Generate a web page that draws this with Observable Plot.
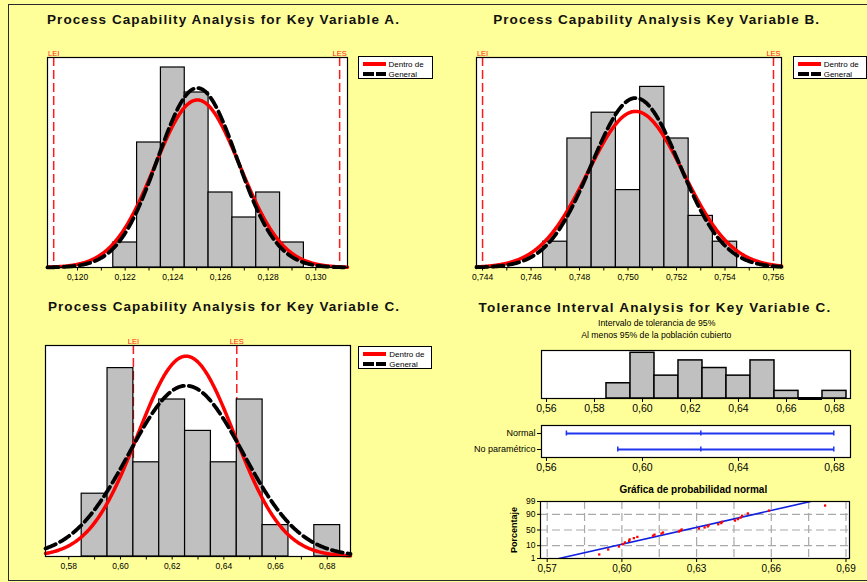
<!DOCTYPE html>
<html>
<head>
<meta charset="utf-8">
<script src="https://cdn.jsdelivr.net/npm/d3@7"></script>
<script src="https://cdn.jsdelivr.net/npm/@observablehq/plot@0.6"></script>
<style>
  html, body { margin:0; padding:0; background:#ffff99; }
  #root { position:relative; width:867px; height:582px; overflow:hidden; background:#ffff99; font-family:"Liberation Sans", Arial, sans-serif; color:#000; }
  #border { position:absolute; left:7.5px; top:4px; width:900px; height:577px; border:1.6px solid #2a2a2a; box-sizing:border-box; }
  .txt { position:absolute; white-space:nowrap; transform:translate(-50%,-50%); line-height:normal; }
  .legend { position:absolute; background:#fff; border:1.5px solid #000; box-sizing:border-box; height:23px; }
  .legend .sw { position:absolute; left:4px; width:23px; height:4px; }
  .legend .lb { position:absolute; left:30px; font-size:8px; line-height:9px; }
</style>
</head>
<body>
<div id="root"><div id="border"></div></div>
<script>
// ---------------- DATA ----------------
// Panel A
const binsA = [0.122, 0.123, 0.124, 0.125, 0.126, 0.127, 0.128, 0.129];
const countsA = [1, 5, 8, 7, 3, 2, 3, 1];
const specA = [0.119, 0.131];
const normalA = [0.12503, 0.001786, 0.001667];   // mean, sd within, sd overall
const majorA = [0.120, 0.122, 0.124, 0.126, 0.128, 0.130];
const minorA = [0.121, 0.123, 0.125, 0.127, 0.129];

// Panel B
const binsB = [0.747, 0.748, 0.749, 0.750, 0.751, 0.752, 0.753, 0.754];
const countsB = [1, 5, 6, 3, 7, 5, 2, 1];
const specB = [0.744, 0.756];
const normalB = [0.75031, 0.001978, 0.001822];
const majorB = [0.744, 0.746, 0.748, 0.750, 0.752, 0.754, 0.756];
const minorB = [0.745, 0.747, 0.749, 0.751, 0.753, 0.755];

// Panel C (also used by the tolerance histogram)
const binsC = [0.59, 0.60, 0.61, 0.62, 0.63, 0.64, 0.65, 0.66, 0.67, 0.68];
const countsC = [2, 6, 3, 5, 4, 3, 5, 1, 0, 1];
const specC = [0.605, 0.645];
const normalC = [0.6254, 0.01876, 0.0220];
const majorC = [0.58, 0.60, 0.62, 0.64, 0.66, 0.68];
const minorC = [0.59, 0.61, 0.63, 0.65, 0.67];
const specLabels = ["LEI", "LES"];

// Tolerance interval panel
const ticksD = [0.56, 0.58, 0.60, 0.62, 0.64, 0.66, 0.68];
const ticksInterval = [0.56, 0.60, 0.64, 0.68];
const intervalNames = ["Normal", "No paramétrico"];
const intervalLo = [0.5683, 0.5897];
const intervalMid = [0.6243, 0.6243];
const intervalHi = [0.6797, 0.6797];

// Normal probability plot
const probValues = [0.5909, 0.5945, 0.5988, 0.6004, 0.6012, 0.6029, 0.6031, 0.6048, 0.6062, 0.6125,
                    0.6131, 0.6159, 0.6165, 0.6229, 0.6236, 0.6240, 0.6309, 0.6332, 0.6345, 0.6348,
                    0.6387, 0.6399, 0.6402, 0.6454, 0.6466, 0.6477, 0.6483, 0.6506, 0.6591, 0.6816];
const probPercent = [2.30, 5.59, 8.88, 12.17, 15.46, 18.75, 22.04, 25.33, 28.62, 31.91,
                     35.20, 38.49, 41.78, 45.07, 48.36, 51.64, 54.93, 58.22, 61.51, 64.80,
                     68.09, 71.38, 74.67, 77.96, 81.25, 84.54, 87.83, 91.12, 94.41, 97.70];
const probLineX = [0.5747, 0.6758];
const probLineP = [1, 99];
const probTicks = [1, 10, 50, 90, 99];
const probGridP = [10, 50, 90];
const probGridX = [0.57, 0.585, 0.60, 0.615, 0.63, 0.645, 0.66, 0.675, 0.69];
const probTicksX = [0.57, 0.60, 0.63, 0.66, 0.69];

// ---------------- HELPERS ----------------
const root = document.getElementById("root");
const FONT = "'Liberation Sans', Arial, sans-serif";
const comma = digits => d => d.toFixed(digits).replace(".", ",");
const plotStyle = {background: "transparent", overflow: "visible", maxWidth: "none", fontFamily: FONT, color: "#000"};

function qnorm(p) {
  const a=[-3.969683028665376e+01,2.209460984245205e+02,-2.759285104469687e+02,1.383577518672690e+02,-3.066479806614716e+01,2.506628277459239e+00];
  const b=[-5.447609879822406e+01,1.615858368580409e+02,-1.556989798598866e+02,6.680131188771972e+01,-1.328068155288572e+01];
  const c=[-7.784894002430293e-03,-3.223964580411365e-01,-2.400758277161838e+00,-2.549732539343734e+00,4.374664141464968e+00,2.938163982698783e+00];
  const d=[7.784695709041462e-03,3.224671290700398e-01,2.445134137142996e+00,3.754408661907416e+00];
  const pl = 0.02425;
  let q, r;
  if (p < pl) { q = Math.sqrt(-2*Math.log(p)); return (((((c[0]*q+c[1])*q+c[2])*q+c[3])*q+c[4])*q+c[5])/((((d[0]*q+d[1])*q+d[2])*q+d[3])*q+1); }
  if (p > 1 - pl) { q = Math.sqrt(-2*Math.log(1-p)); return -(((((c[0]*q+c[1])*q+c[2])*q+c[3])*q+c[4])*q+c[5])/((((d[0]*q+d[1])*q+d[2])*q+d[3])*q+1); }
  q = p - 0.5; r = q*q;
  return (((((a[0]*r+a[1])*r+a[2])*r+a[3])*r+a[4])*r+a[5])*q/(((((b[0]*r+b[1])*r+b[2])*r+b[3])*r+b[4])*r+1);
}

function mount(svg, frame, m) {
  svg.style.position = "absolute";
  svg.style.left = (frame[0] - m.left) + "px";
  svg.style.top = (frame[1] - m.top) + "px";
  root.appendChild(svg);
}

function text(str, cx, cy, css, fitWidth) {
  const el = document.createElement("div");
  el.className = "txt";
  el.textContent = str;
  Object.assign(el.style, css || {});
  el.style.left = cx + "px";
  el.style.top = cy + "px";
  root.appendChild(el);
  if (fitWidth) {
    const w = el.getBoundingClientRect().width;
    el.style.letterSpacing = ((fitWidth - w) / str.length) + "px";
  }
  return el;
}

function legend(left, top, width) {
  const el = document.createElement("div");
  el.className = "legend";
  el.style.left = left + "px";
  el.style.top = top + "px";
  el.style.width = width + "px";
  el.innerHTML =
    '<div class="sw" style="top:5px;background:#ff0000"></div>' +
    '<div class="lb" style="top:3px">Dentro de</div>' +
    '<div class="sw" style="top:15px;background:repeating-linear-gradient(to right,#000 0 11px,transparent 11px 13px)"></div>' +
    '<div class="lb" style="top:13px">General</div>';
  root.appendChild(el);
}

function capability({bins, counts, binWidth, spec, normal, n, xDomain, yMax, major, minor, digits, frame}) {
  const m = {top: 20, right: 12, bottom: 24, left: 12};
  const hist = bins.map((x, i) => ({x0: x - binWidth/2, x1: x + binWidth/2, count: counts[i]}));
  const pdf = (x, mu, s) => n * binWidth * Math.exp(-0.5*((x-mu)/s)**2) / (s*Math.sqrt(2*Math.PI));
  const xs = d3.range(0, 401).map(i => xDomain[0] + (xDomain[1]-xDomain[0]) * i / 400);
  const within = xs.map(x => ({x, y: pdf(x, normal[0], normal[1])}));
  const overall = xs.map(x => ({x, y: pdf(x, normal[0], normal[2])}));
  const specData = spec.map((v, i) => ({x: v, label: specLabels[i]}));
  const svg = Plot.plot({
    width: frame[2] - frame[0] + m.left + m.right,
    height: frame[3] - frame[1] + m.top + m.bottom,
    marginTop: m.top, marginRight: m.right, marginBottom: m.bottom, marginLeft: m.left,
    style: plotStyle,
    x: {domain: xDomain},
    y: {domain: [0, yMax], axis: null},
    marks: [
      Plot.frame({fill: "white"}),
      Plot.ruleX(specData, {x: "x", stroke: "#ff1a1a", strokeWidth: 1.5, strokeDasharray: "9,4"}),
      Plot.rectY(hist, {x1: "x0", x2: "x1", y: "count", fill: "#c0c0c0", stroke: "#000", strokeWidth: 1.2}),
      Plot.line(within, {x: "x", y: "y", stroke: "#ff0000", strokeWidth: 3.5}),
      Plot.line(overall, {x: "x", y: "y", stroke: "#000", strokeWidth: 3.8, strokeDasharray: "11,5"}),
      Plot.frame({stroke: "#000", strokeWidth: 1.2}),
      Plot.text(specData, {x: "x", text: "label", frameAnchor: "top", dy: -6.5, fill: "#ff2020", fontSize: 7.5}),
      Plot.axisX({ticks: minor, tickFormat: () => "", tickSize: 3.5, label: null}),
      Plot.axisX({ticks: major, tickFormat: comma(digits), tickSize: 3.5, tickPadding: 2.5, fontSize: 8.5, label: null})
    ]
  });
  mount(svg, frame, m);
}

// ---------------- PANELS ----------------
capability({bins: binsA, counts: countsA, binWidth: 0.001, spec: specA, normal: normalA, n: 30,
  xDomain: [0.11874, 0.13133], yMax: 8.4, major: majorA, minor: minorA, digits: 3, frame: [47, 57, 347, 267]});
capability({bins: binsB, counts: countsB, binWidth: 0.001, spec: specB, normal: normalB, n: 30,
  xDomain: [0.74375, 0.75633], yMax: 8.14, major: majorB, minor: minorB, digits: 3, frame: [476, 57, 781, 267]});
capability({bins: binsC, counts: countsC, binWidth: 0.01, spec: specC, normal: normalC, n: 30,
  xDomain: [0.571, 0.689], yMax: 6.72, major: majorC, minor: minorC, digits: 2, frame: [45, 345, 350, 556]});

// Tolerance histogram
{
  const frame = [541, 350, 850, 398];
  const m = {top: 4, right: 10, bottom: 22, left: 10};
  const hist = binsC.map((x, i) => ({x0: x - 0.005, x1: x + 0.005, count: countsC[i]}));
  const svg = Plot.plot({
    width: frame[2]-frame[0]+m.left+m.right, height: frame[3]-frame[1]+m.top+m.bottom,
    marginTop: m.top, marginRight: m.right, marginBottom: m.bottom, marginLeft: m.left,
    style: plotStyle,
    x: {domain: [0.55792, 0.68667]},
    y: {domain: [0, 6.3], axis: null},
    marks: [
      Plot.frame({fill: "white"}),
      Plot.rectY(hist, {x1: "x0", x2: "x1", y: "count", fill: "#c0c0c0", stroke: "#000", strokeWidth: 1.5}),
      Plot.ruleY(hist.filter(d => d.count === 0), {x1: "x0", x2: "x1", y: "count", stroke: "#000", strokeWidth: 3}),
      Plot.frame({stroke: "#000", strokeWidth: 1.2}),
      Plot.axisX({ticks: ticksD, tickFormat: comma(2), tickSize: 4, tickPadding: 2, fontSize: 10.5, label: null})
    ]
  });
  mount(svg, frame, m);
}

// Tolerance intervals
{
  const frame = [541, 425, 850, 457];
  const m = {top: 4, right: 10, bottom: 22, left: 75};
  const intervals = intervalNames.map((name, i) => ({name, lo: intervalLo[i], hi: intervalHi[i]}));
  const marks = intervalNames.flatMap((name, i) => [intervalLo[i], intervalMid[i], intervalHi[i]].map(x => ({name, x})));
  const blue = "#1f35f0";
  const svg = Plot.plot({
    width: frame[2]-frame[0]+m.left+m.right, height: frame[3]-frame[1]+m.top+m.bottom,
    marginTop: m.top, marginRight: m.right, marginBottom: m.bottom, marginLeft: m.left,
    style: plotStyle,
    x: {domain: [0.55792, 0.68667]},
    y: {type: "point", domain: intervalNames, padding: 0.464},
    marks: [
      Plot.frame({fill: "white"}),
      Plot.ruleY(intervals, {y: "name", x1: "lo", x2: "hi", stroke: blue, strokeWidth: 2}),
      Plot.ruleX(marks, {x: "x", y1: "name", y2: "name", insetTop: -2.5, insetBottom: -2.5, stroke: blue, strokeWidth: 1.5}),
      Plot.frame({stroke: "#000", strokeWidth: 1.2}),
      Plot.axisX({ticks: ticksInterval, tickFormat: comma(2), tickSize: 4, tickPadding: 2, fontSize: 10.5, label: null}),
      Plot.axisY({tickSize: 4, tickPadding: 2, fontSize: 9, label: null})
    ]
  });
  mount(svg, frame, m);
}

// Normal probability plot
{
  const frame = [540, 501, 849, 558];
  const m = {top: 4, right: 10, bottom: 22, left: 45};
  const pts = probValues.map((x, i) => ({x, z: qnorm(probPercent[i] / 100)}));
  const fit = probLineX.map((x, i) => ({x, z: qnorm(probLineP[i] / 100)}));
  const zTicks = probTicks.map(p => qnorm(p / 100));
  const grid = "#a9a9a9";
  const svg = Plot.plot({
    width: frame[2]-frame[0]+m.left+m.right, height: frame[3]-frame[1]+m.top+m.bottom,
    marginTop: m.top, marginRight: m.right, marginBottom: m.bottom, marginLeft: m.left,
    style: plotStyle,
    x: {domain: [0.56731, 0.6914]},
    y: {domain: [qnorm(0.01), qnorm(0.99)]},
    marks: [
      Plot.frame({fill: "white"}),
      Plot.ruleX(probGridX, {stroke: grid, strokeWidth: 1.2, strokeDasharray: "8,4"}),
      Plot.ruleY(probGridP, {y: p => qnorm(p / 100), stroke: grid, strokeWidth: 1.2, strokeDasharray: "8,4"}),
      Plot.line(fit, {x: "x", y: "z", stroke: "#1020e0", strokeWidth: 1.6, clip: true}),
      Plot.dot(pts, {x: "x", y: "z", r: 1.3, symbol: "square", fill: "#ff0000"}),
      Plot.frame({stroke: "#000", strokeWidth: 1.2}),
      Plot.axisX({ticks: probTicksX, tickFormat: comma(2), tickSize: 4, tickPadding: 2, fontSize: 10, label: null}),
      Plot.axisY({ticks: zTicks, tickFormat: z => String(probTicks[zTicks.findIndex(t => Math.abs(t - z) < 1e-9)]), tickSize: 3, tickPadding: 2, fontSize: 8.5, label: null}),
      Plot.text(["Porcentaje"], {frameAnchor: "left", textAnchor: "middle", rotate: -90, dx: -26, fontWeight: "bold", fontSize: 9})
    ]
  });
  mount(svg, frame, m);
}

// ---------------- TITLES & LEGENDS ----------------
const titleCss = {fontWeight: "bold", fontSize: "13.5px", color: "#111"};
text("Process Capability Analysis for Key Variable A.", 223.5, 19, titleCss, 353);
text("Process Capability Analysis Key Variable B.", 656.7, 19, titleCss, 327);
text("Process Capability Analysis for Key Variable C.", 224, 306, titleCss, 352);
text("Tolerance Interval Analysis for Key Variable C.", 655, 306.7, titleCss, 353);
text("Intervalo de tolerancia de 95%", 656.7, 322.7, {fontSize: "8.7px"});
text("Al menos 95% de la población cubierto", 656.3, 335, {fontSize: "8.7px"});
text("Gráfica de probabilidad normal", 693.3, 489, {fontSize: "10px", fontWeight: "bold"});

legend(357.5, 56, 75.5);
legend(792.7, 56, 74);
legend(358.3, 346, 74);
</script>
</body>
</html>
